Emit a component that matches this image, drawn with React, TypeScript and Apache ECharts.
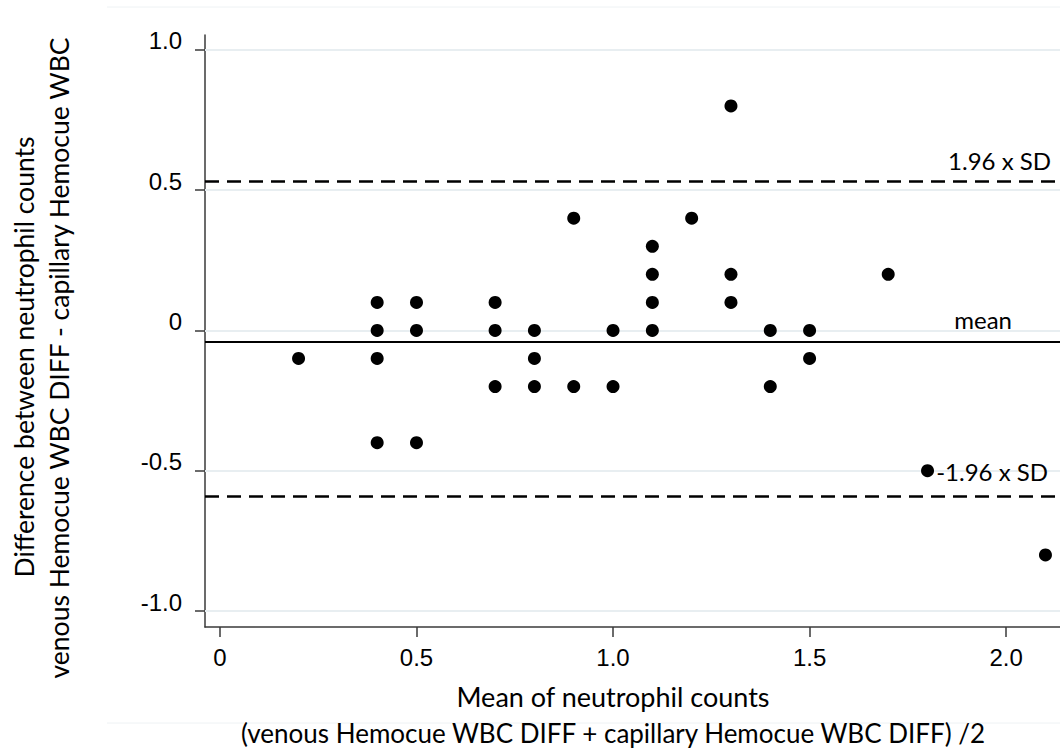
import React, { useEffect, useRef } from "react";
import * as echarts from "echarts";

// Bland–Altman data: mean of the two counts (x) vs. their difference (y)
const meanCounts = [
  0.2,
  0.4, 0.4, 0.4, 0.4,
  0.5, 0.5, 0.5,
  0.7, 0.7, 0.7,
  0.8, 0.8, 0.8,
  0.9, 0.9,
  1.0, 1.0,
  1.1, 1.1, 1.1, 1.1,
  1.2,
  1.3, 1.3, 1.3,
  1.4, 1.4,
  1.5, 1.5,
  1.7,
  1.8,
  2.1,
];
const diffCounts = [
  -0.1,
  0.1, 0, -0.1, -0.4,
  0.1, 0, -0.4,
  0.1, 0, -0.2,
  0, -0.1, -0.2,
  0.4, -0.2,
  0, -0.2,
  0.3, 0.2, 0.1, 0,
  0.4,
  0.8, 0.2, 0.1,
  0, -0.2,
  0, -0.1,
  0.2,
  -0.5,
  -0.8,
];

const meanDiff = -0.035;
const upperLimit = 0.525;
const lowerLimit = -0.595;

const xTicks = [0, 0.5, 1.0, 1.5, 2.0];
const yTicks = [-1.0, -0.5, 0, 0.5, 1.0];

const xTitle = [
  "Mean of neutrophil counts",
  "(venous Hemocue WBC DIFF + capillary Hemocue WBC DIFF) /2",
];
const yTitle = [
  "Difference between neutrophil counts",
  "venous Hemocue WBC DIFF - capillary Hemocue WBC",
];

const tickFont = "'Liberation Sans', Arial, sans-serif";
const titleFont = "Lato, 'Open Sans', sans-serif";
const fmt = (v: number) => (v === 0 ? "0" : v.toFixed(1));

export default function App() {
  const ref = useRef<HTMLDivElement>(null);

  useEffect(() => {
    if (!ref.current) return;
    const chart = echarts.init(ref.current, null, { renderer: "svg" });
    const points = meanCounts.map((x, i) => [x, diffCounts[i]]);

    const refLabel = (text: string, distance: number, padRight: number) => ({
      show: true,
      position: "insideEndTop",
      formatter: text,
      color: "#000",
      fontFamily: titleFont,
      fontSize: 24,
      distance,
      padding: [0, padRight, 0, 0],
    });

    const titleText = (
      text: string,
      x: number,
      y: number,
      size: number,
      rotation = 0
    ) => ({
      type: "text",
      x,
      y,
      rotation,
      silent: true,
      style: {
        text,
        fill: "#000",
        font: `${size}px ${titleFont}`,
        align: "center",
        verticalAlign: "middle",
      },
    });

    chart.setOption({
      animation: false,
      backgroundColor: "#fff",
      grid: { left: 205, right: 0, top: 35, bottom: 122 },
      xAxis: {
        type: "value",
        min: -0.038,
        max: 2.137,
        axisLine: {
          show: true,
          onZero: false,
          lineStyle: { color: "#3a3a3a", width: 1.5 },
        },
        axisTick: {
          show: true,
          customValues: xTicks,
          length: 10,
          lineStyle: { color: "#3a3a3a", width: 1.5 },
        },
        axisLabel: {
          customValues: xTicks,
          formatter: fmt,
          color: "#000",
          fontFamily: tickFont,
          fontSize: 24,
          margin: 18,
        },
        splitLine: { show: false },
      },
      yAxis: {
        type: "value",
        min: -1.057,
        max: 1.053,
        axisLine: {
          show: true,
          onZero: false,
          lineStyle: { color: "#3a3a3a", width: 1.5 },
        },
        axisTick: {
          show: true,
          customValues: yTicks,
          length: 10,
          lineStyle: { color: "#3a3a3a", width: 1.5 },
        },
        axisLabel: {
          customValues: yTicks,
          formatter: (v: number) => `{t|${fmt(v)}}`,
          margin: 23,
          rich: {
            t: {
              color: "#000",
              fontFamily: tickFont,
              fontSize: 24,
              padding: [0, 0, 18, 0],
            },
          },
        },
        splitLine: { show: false },
      },
      series: [
        {
          // light horizontal gridlines at each y tick
          type: "line",
          data: [],
          silent: true,
          z: 1,
          markLine: {
            silent: true,
            symbol: "none",
            animation: false,
            label: { show: false },
            lineStyle: { color: "#e8eef1", width: 2, type: "solid" },
            data: yTicks.map((v) => ({ yAxis: v })),
          },
        },
        {
          type: "scatter",
          data: points,
          symbol: "circle",
          symbolSize: 13,
          itemStyle: { color: "#000", opacity: 1 },
          z: 5,
          markLine: {
            silent: true,
            symbol: "none",
            animation: false,
            data: [
              {
                yAxis: upperLimit,
                lineStyle: { color: "#000", width: 2.5, type: [14, 8] },
                label: refLabel("1.96 x SD", 9, 0),
              },
              {
                yAxis: meanDiff,
                lineStyle: { color: "#000", width: 2, type: "solid" },
                label: refLabel("mean", 10, 38),
              },
              {
                yAxis: lowerLimit,
                lineStyle: { color: "#000", width: 2.5, type: [14, 8] },
                label: refLabel("-1.96 x SD", 12, 0),
              },
            ],
          },
        },
      ],
      graphic: [
        {
          type: "line",
          shape: { x1: 107, y1: 7, x2: 1060, y2: 7 },
          style: { stroke: "#eef2f4", lineWidth: 1 },
          silent: true,
        },
        {
          type: "line",
          shape: { x1: 107, y1: 723, x2: 1060, y2: 723 },
          style: { stroke: "#eef2f4", lineWidth: 1 },
          silent: true,
        },
        titleText(xTitle[0], 613, 696, 27),
        titleText(xTitle[1], 613, 733, 26),
        titleText(yTitle[0], 24, 357, 26.5, Math.PI / 2),
        titleText(yTitle[1], 59, 358, 26.5, Math.PI / 2),
      ],
    });

    return () => chart.dispose();
  }, []);

  return (
    <div
      ref={ref}
      style={{ position: "fixed", left: 0, top: 0, width: 1060, height: 749 }}
    />
  );
}
